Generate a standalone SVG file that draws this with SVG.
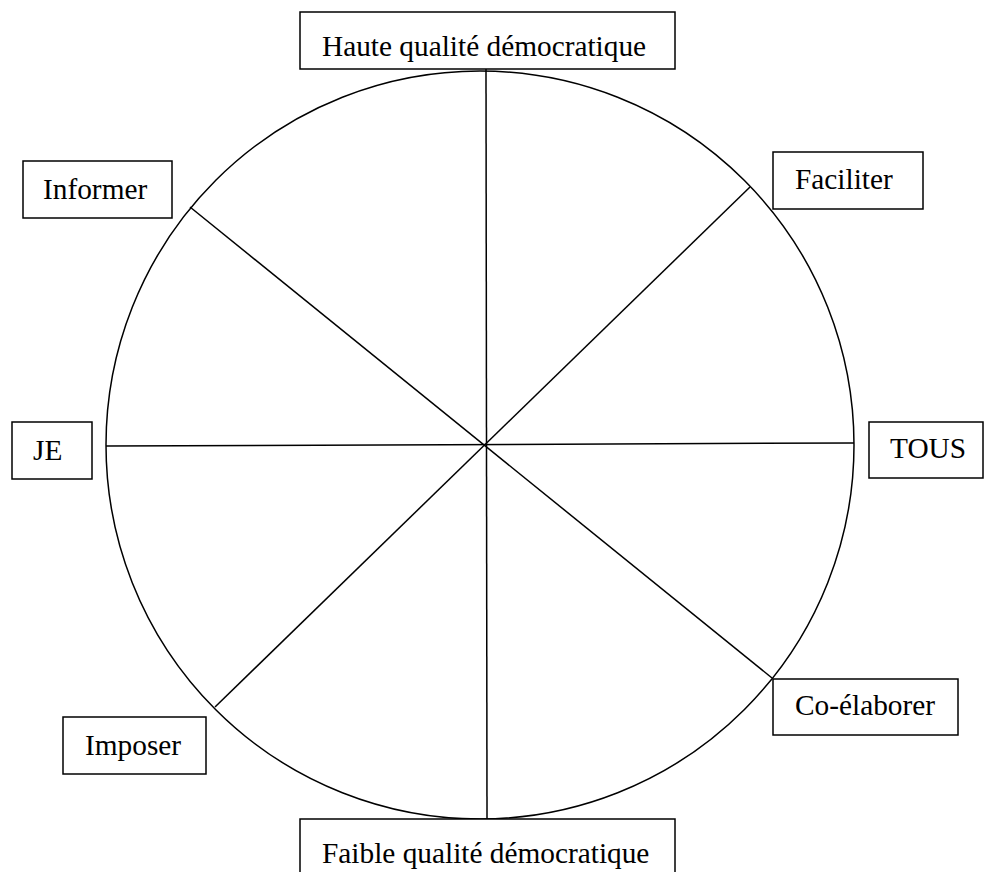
<svg xmlns="http://www.w3.org/2000/svg" width="986" height="872" viewBox="0 0 986 872">
<style>
.box{fill:#fff;stroke:#000;stroke-width:1.5}
.ln{stroke:#000;stroke-width:1.5;fill:none}
.t{font-family:"Liberation Serif","Times New Roman",serif;font-size:29.33px;fill:#000}
</style>
<rect width="986" height="872" fill="#fff"/>
<g id="wheel">
<circle class="ln" cx="480" cy="445" r="374"/>
</g>
<g id="connectors">
<line class="ln" x1="486" y1="69" x2="487" y2="819"/>
<line class="ln" x1="106" y1="446" x2="854" y2="443"/>
<line class="ln" x1="190" y1="207" x2="772" y2="678"/>
<line class="ln" x1="750" y1="187" x2="215" y2="707"/>
</g>
<g id="haute">
<rect class="box" x="300" y="12" width="375" height="57"/>
<text class="t" x="322" y="56">Haute qualité démocratique</text>
</g>
<g id="informer">
<rect class="box" x="23" y="161" width="149" height="57"/>
<text class="t" x="43" y="199">Informer</text>
</g>
<g id="faciliter">
<rect class="box" x="773" y="152" width="150" height="57"/>
<text class="t" x="795" y="189">Faciliter</text>
</g>
<g id="je">
<rect class="box" x="12" y="422" width="80" height="57"/>
<text class="t" x="33" y="460">JE</text>
</g>
<g id="tous">
<rect class="box" x="869" y="422" width="114" height="56"/>
<text class="t" x="890" y="458">TOUS</text>
</g>
<g id="coelaborer">
<rect class="box" x="773" y="679" width="185" height="56"/>
<text class="t" x="795" y="715">Co-élaborer</text>
</g>
<g id="imposer">
<rect class="box" x="63" y="717" width="143" height="57"/>
<text class="t" x="85" y="755">Imposer</text>
</g>
<g id="faible">
<rect class="box" x="300" y="819" width="375" height="60"/>
<text class="t" x="322" y="863">Faible qualité démocratique</text>
</g>
</svg>
